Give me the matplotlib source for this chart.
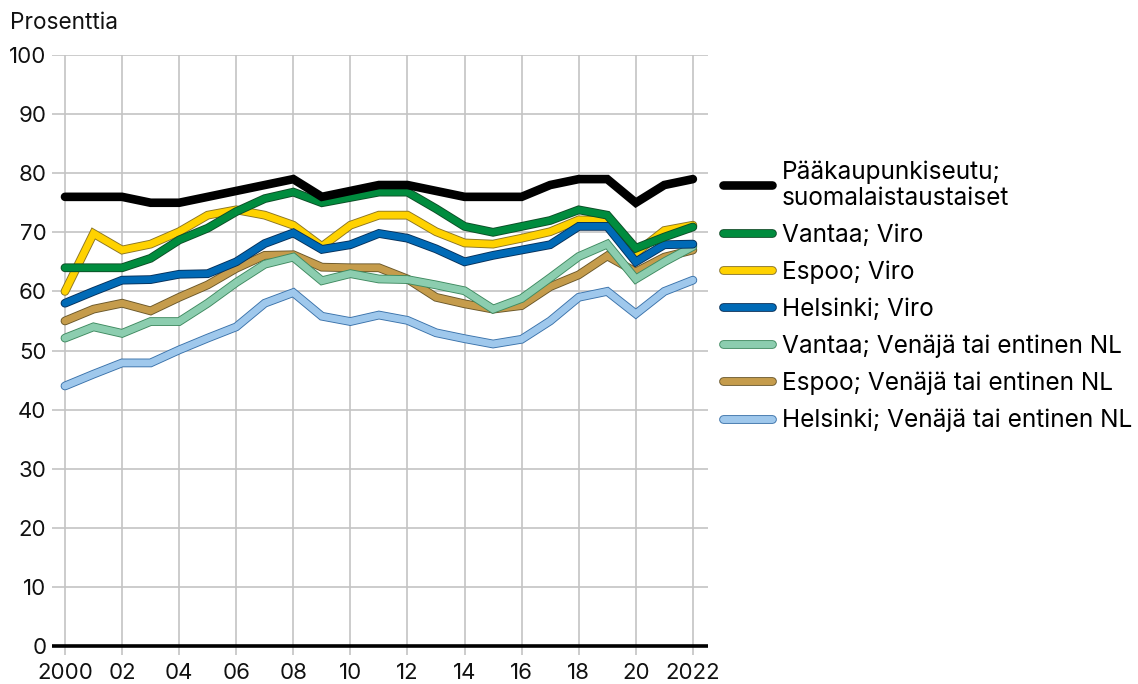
import matplotlib
matplotlib.use("Agg")
import matplotlib.pyplot as plt
import matplotlib.patheffects as pe

plt.rcParams["font.family"] = ["Inter", "DejaVu Sans"]

years = list(range(2000, 2023))

# Share of employed by background, 2000-2022 (percent)
paakaupunkiseutu_suomi = [76, 76, 76, 75, 75, 76, 77, 78, 79, 76, 77, 78, 78, 77, 76, 76, 76, 78, 79, 79, 75, 78, 79]
vantaa_viro = [64, 64, 64, 65.6, 68.7, 70.7, 73.5, 75.7, 76.8, 75, 75.9, 76.8, 76.8, 74, 71, 70, 71, 72, 73.8, 72.9, 67.3, 69.2, 70.9]
espoo_viro = [60, 69.8, 67, 68, 70.1, 72.9, 73.8, 72.9, 71.2, 67.6, 71.2, 72.9, 72.9, 70.1, 68.2, 68, 69, 70.1, 72.1, 72, 66.5, 70.3, 71.2]
helsinki_viro = [58, 60, 61.9, 62, 62.9, 63, 65, 68.1, 69.9, 67.1, 67.9, 69.8, 69, 67.2, 65, 66.1, 67, 67.9, 71, 71, 65, 67.9, 68]
vantaa_venaja = [52.1, 54, 52.9, 54.9, 54.9, 58, 61.5, 64.6, 65.8, 61.8, 63, 62.1, 62, 61.1, 60.1, 57, 58.8, 62.3, 65.9, 68, 62.1, 65, 67.6]
espoo_venaja = [55, 57, 58, 56.7, 59, 61.1, 63.9, 66.1, 66.2, 64.1, 64, 64, 62.1, 59, 57.9, 57, 57.6, 60.8, 62.8, 66, 63.3, 65.8, 67]
helsinki_venaja = [44, 46, 47.9, 47.9, 50.1, 52.1, 54, 58, 59.8, 55.8, 54.9, 56, 55.1, 53, 52, 51.1, 51.9, 55, 59, 60, 56.2, 60, 61.9]

labels = [
    "Pääkaupunkiseutu;\nsuomalaistaustaiset",
    "Vantaa; Viro",
    "Espoo; Viro",
    "Helsinki; Viro",
    "Vantaa; Venäjä tai entinen NL",
    "Espoo; Venäjä tai entinen NL",
    "Helsinki; Venäjä tai entinen NL",
]
series = [paakaupunkiseutu_suomi, vantaa_viro, espoo_viro, helsinki_viro,
          vantaa_venaja, espoo_venaja, helsinki_venaja]
colors = ["#000000", "#008c3e", "#ffd200", "#006ab6", "#8ccdaf", "#c59c4c", "#9fc8ec"]
edges = [None, "#0d4d26", "#8a7424", "#06305a", "#3f8a60", "#6a5729", "#3a72aa"]
# drawing order, bottom first
zorders = [10, 9, 7, 8, 6, 5, 4]

fig = plt.figure(figsize=(11.38, 6.84), dpi=100)
ax = fig.add_axes([52 / 1138, 1 - 655 / 684, 656 / 1138, 600 / 684])

handles = []
for vals, lab, col, edge, z in zip(series, labels, colors, edges, zorders):
    if edge is None:
        line, = ax.plot(years, vals, color=col, lw=6.2, label=lab, zorder=z,
                        solid_capstyle="round", solid_joinstyle="miter")
    else:
        line, = ax.plot(years, vals, color=col, lw=5.0, label=lab, zorder=z,
                        solid_capstyle="round", solid_joinstyle="miter",
                        path_effects=[pe.Stroke(linewidth=6.3, foreground=edge), pe.Normal()])
    handles.append(line)

ax.set_xlim(1999.545, 2022.53)
ax.set_ylim(-1.52, 100)
ax.set_yticks(range(0, 101, 10))
ax.set_xticks(range(2000, 2023, 2))
ax.set_xticklabels(["2000", "02", "04", "06", "08", "10", "12", "14", "16", "18", "20", "2022"])
ax.tick_params(length=0, labelsize=16, colors="#111111", pad=6)
ax.tick_params(axis="y", pad=4)
ax.grid(True, color="#c4c4c4", lw=1.2)
ax.set_axisbelow(True)
for s in ax.spines.values():
    s.set_visible(False)
ax.axhline(0, color="black", lw=2.6, zorder=3)

fig.text(10 / 1138, 1 - 23 / 684, "Prosenttia", fontsize=16.3, va="center", ha="left", color="#111111")

fig.legend(handles=handles, labels=labels, loc="upper left",
           bbox_to_anchor=(723 / 1138, 1 - 160 / 684), frameon=False,
           fontsize=17.6, handlelength=2.0, handletextpad=0.42, labelspacing=0.56,
           borderpad=0, borderaxespad=0)

plt.savefig("out.png", dpi=100)
